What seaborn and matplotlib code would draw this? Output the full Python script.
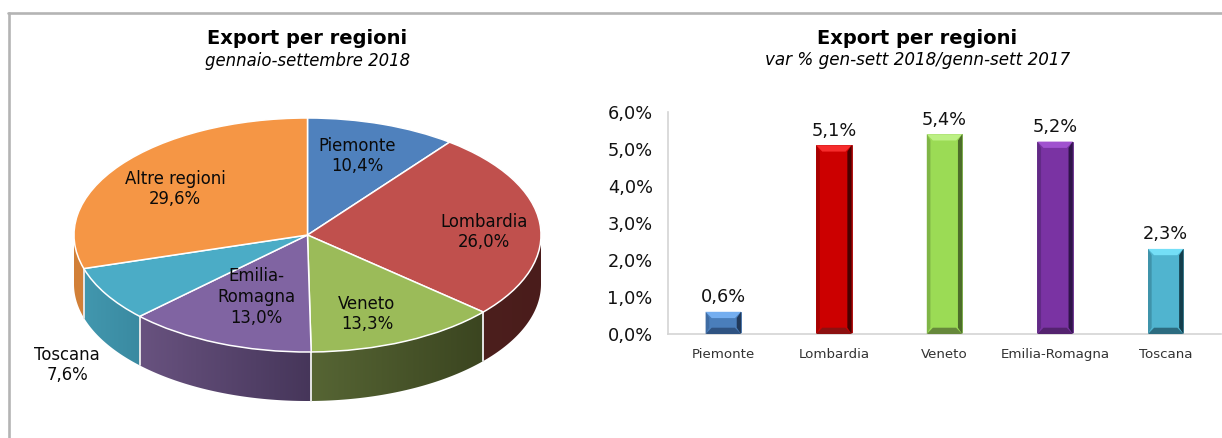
import numpy as np
import pandas as pd
import seaborn as sns
import matplotlib
matplotlib.use("Agg")
import matplotlib.pyplot as plt
from matplotlib.lines import Line2D
from matplotlib.patches import Polygon
from matplotlib.colors import LinearSegmentedColormap
from matplotlib.ticker import FuncFormatter

# ---------- data ----------
pie_regions = ["Piemonte", "Lombardia", "Veneto", "Emilia-\nRomagna", "Toscana", "Altre regioni"]
pie_values = [10.4, 26.0, 13.3, 13.0, 7.6, 29.6]
bar_regions = ["Piemonte", "Lombardia", "Veneto", "Emilia-Romagna", "Toscana"]
bar_values = [0.6, 5.1, 5.4, 5.2, 2.3]
y_ticks = [0, 1, 2, 3, 4, 5, 6]
title_main = "Export per regioni"
pie_subtitle = "gennaio-settembre 2018"
bar_subtitle = "var % gen-sett 2018/genn-sett 2017"

# ---------- styles ----------
pie_colors = ["#4f81bd", "#c0504d", "#9bbb59", "#8064a2", "#4bacc6", "#f59645"]
wall_left = ["#3b618e", "#4c1f1d", "#566534", "#68527f", "#4297ae", "#d28038"]
wall_right = ["#3b618e", "#4a1c1b", "#3b4520", "#46365a", "#3a8aa1", "#d28038"]
label_px = [(357, 156), (484, 232), (367, 314), (256, 297), (67, 365), (175, 189)]
bar_main = ["#4a7ebb", "#cc0000", "#9bdb55", "#7a33a3", "#50b4cf"]
bar_top = ["#74aef0", "#f62c2c", "#bcf084", "#a052cf", "#74dff7"]
bar_bottom = ["#2f5382", "#8c1010", "#66883b", "#54236f", "#2c6c80"]
bar_left = ["#3f6ca3", "#a80000", "#7fb546", "#622a86", "#3f93aa"]
bar_right = ["#21395a", "#4a0000", "#4d6d2a", "#30144a", "#143e4c"]

W, H = 1222, 438
sns.set_theme(style="white")
plt.rcParams["font.family"] = ["DejaVu Sans"]
fig = plt.figure(figsize=(W / 100, H / 100), dpi=100, facecolor="white")


def fx(x):
    return x / W


def fy(y):
    return 1 - y / H


def rect(x0, y0, x1, y1):
    return [fx(x0), fy(y1), fx(x1) - fx(x0), fy(y0) - fy(y1)]


# frame lines
fig.add_artist(Line2D([fx(9), fx(9)], [fy(13), 0], color="#b4b4b4", lw=1.9))
fig.add_artist(Line2D([fx(8), 1], [fy(13), fy(13)], color="#b4b4b4", lw=1.9))

# ---------- pie ----------
cx, cy, rx, ry, depth_px = 307.5, 235, 233.5, 117, 49
ax_p = fig.add_axes(rect(0, 0, 610, 438))
depth = depth_px / ry
xlim = (-cx / rx, (610 - cx) / rx)
ylim = ((cy - 438) / ry, cy / ry)

cum = np.concatenate([[0], np.cumsum(pie_values)]) / np.sum(pie_values) * 360
for i in range(len(pie_values)):
    a0, a1 = max(cum[i], 90), min(cum[i + 1], 270)
    if a1 <= a0:
        continue
    t = np.radians(np.linspace(a0, a1, 80))
    x, y = np.sin(t), np.cos(t)
    pts = np.column_stack([np.r_[x, x[::-1]], np.r_[y, (y - depth)[::-1]]])
    cmap = LinearSegmentedColormap.from_list("w", [wall_left[i], wall_right[i]])
    x0, x1 = min(x.min(), x.max()), max(x.min(), x.max())
    im = ax_p.imshow(np.linspace(0, 1, 64)[None, :], cmap=cmap, aspect="auto",
                     extent=(x0, x1, -1 - depth, 1), zorder=1)
    clip = Polygon(pts, transform=ax_p.transData, fc="none", ec="none")
    ax_p.add_patch(clip)
    im.set_clip_path(clip)
    # white separators on the wall at the slice boundaries
    for a in (cum[i], cum[i + 1]):
        if 90 < a < 270:
            r = np.radians(a)
            ax_p.plot([np.sin(r)] * 2, [np.cos(r), np.cos(r) - depth], color="#e8e8e8", lw=1.1, zorder=2)

ax_p.pie(pie_values, colors=pie_colors, startangle=90, counterclock=False, radius=1,
         wedgeprops=dict(edgecolor="white", linewidth=1.1, zorder=3))
for p in ax_p.patches:
    p.set_zorder(3)
ax_p.set_aspect("auto")
ax_p.set_xlim(*xlim)
ax_p.set_ylim(*ylim)
ax_p.axis("off")

for name, val, (lx, ly) in zip(pie_regions, pie_values, label_px):
    fig.text(fx(lx), fy(ly), f"{name}\n{val:.1f}%".replace(".", ","), ha="center", va="center",
             fontsize=11.9, color="#0a0a0a", linespacing=1.2, zorder=10)

fig.text(fx(307), fy(39), title_main, ha="center", va="center", fontsize=14, fontweight="bold", color="black")
fig.text(fx(308), fy(61), pie_subtitle, ha="center", va="center", fontsize=11.9, style="italic", color="black")

# ---------- bars ----------
ax_b = fig.add_axes(rect(668, 112, 1221, 334))
df = pd.DataFrame({"regione": bar_regions, "var": bar_values})
sns.barplot(data=df, x="regione", y="var", hue="regione", palette=bar_main, width=0.32,
            dodge=False, legend=False, saturation=1, ax=ax_b)
ax_b.set_xlim(-0.5, len(bar_regions) - 0.5)
ax_b.set_ylim(0, 6)
ax_b.set_yticks(y_ticks)
ax_b.yaxis.set_major_formatter(FuncFormatter(lambda v, _: f"{v:.1f}%".replace(".", ",")))
ax_b.set_xlabel("")
ax_b.set_ylabel("")
ax_b.tick_params(axis="y", length=0, labelsize=12.8, pad=11, labelcolor="#111111")
ax_b.tick_params(axis="x", length=0, labelsize=9.6, pad=10, labelcolor="#333333")
for s in ("top", "right"):
    ax_b.spines[s].set_visible(False)
for s in ("left", "bottom"):
    ax_b.spines[s].set_color("#d4d4d4")
    ax_b.spines[s].set_linewidth(1.2)

bevel_x, bevel_y = 0.055, 0.17
for i, (patch, val) in enumerate(zip(ax_b.patches, bar_values)):
    x0, w, h = patch.get_x(), patch.get_width(), patch.get_height()
    x1 = x0 + w
    bx = bevel_x
    by = min(bevel_y, h / 3)
    ax_b.add_patch(Polygon([(x0, h), (x1, h), (x1 - bx, h - by), (x0 + bx, h - by)], fc=bar_top[i], ec="none", zorder=4))
    ax_b.add_patch(Polygon([(x0, 0), (x1, 0), (x1 - bx, by), (x0 + bx, by)], fc=bar_bottom[i], ec="none", zorder=4))
    ax_b.add_patch(Polygon([(x0, 0), (x0 + bx * 0.6, by), (x0 + bx * 0.6, h - by), (x0, h)], fc=bar_left[i], ec="none", zorder=4))
    ax_b.add_patch(Polygon([(x1, 0), (x1 - bx * 0.7, by), (x1 - bx * 0.7, h - by), (x1, h)], fc=bar_right[i], ec="none", zorder=4))
    patch.set_edgecolor(bar_left[i])
    patch.set_linewidth(0.6)
    ax_b.annotate(f"{val:.1f}%".replace(".", ","), (x0 + w / 2, h), xytext=(0, 4), textcoords="offset points",
                  ha="center", va="bottom", fontsize=12.8, color="#111111", zorder=6)

fig.text(fx(917), fy(38), title_main, ha="center", va="center", fontsize=14, fontweight="bold", color="black")
fig.text(fx(918), fy(60), bar_subtitle, ha="center", va="center", fontsize=12.1, style="italic", color="black")

fig.savefig("out.png", dpi=100, facecolor="white")
